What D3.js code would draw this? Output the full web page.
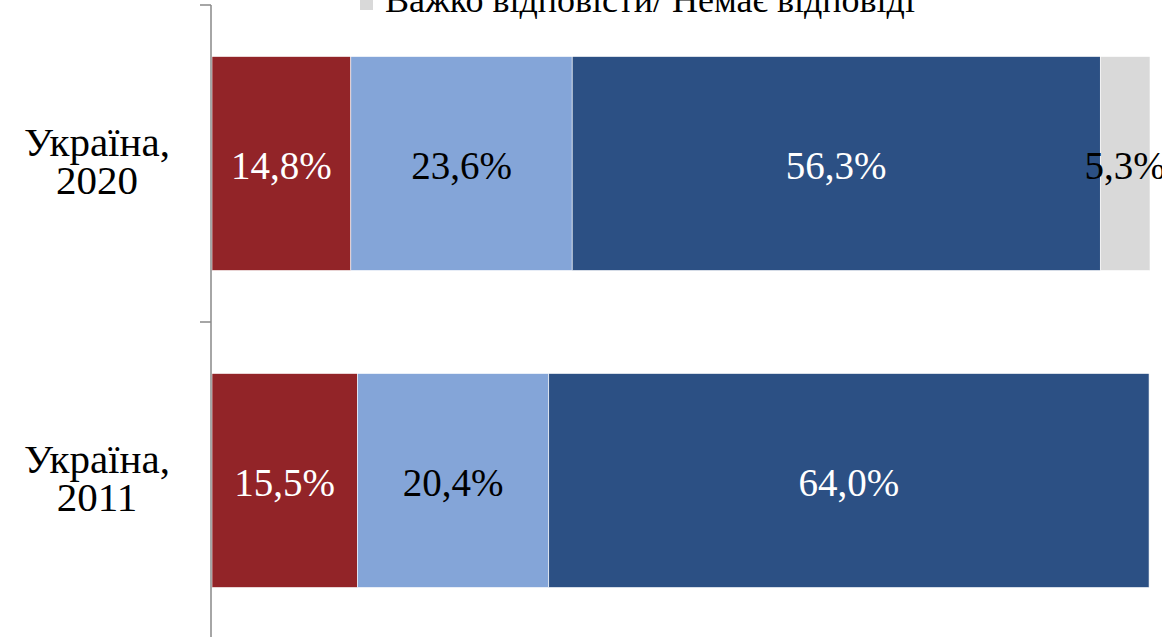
<!DOCTYPE html>
<meta charset="utf-8">
<script src="https://d3js.org/d3.v7.min.js"></script>
<style>
  body { margin: 0; background: #fff; }
  svg { display: block; }
</style>
<div id="my_dataviz"></div>
<script>
  // categories (top to bottom) and their two-line labels
  var categories = ["2020", "2011"];
  var catLabels = [["Україна,", "2020"], ["Україна,", "2011"]];

  // series, in stacking order
  var seriesNames = ["s1", "s2", "s3", "Важко відповісти/ Немає відповіді"];
  var seriesColors = ["#922428", "#84a5d8", "#2c5084", "#d9d9d9"];
  var labelColors = ["#fff", "#000", "#fff", "#000"];

  // values per category, in %
  var values2020 = [14.8, 23.6, 56.3, 5.3];
  var values2011 = [15.5, 20.4, 64.0, 0];

  var width = 1162, height = 637;
  var font = "'Liberation Serif', 'Times New Roman', serif";

  var svg = d3.select("#my_dataviz")
    .append("svg")
    .attr("width", width)
    .attr("height", height);

  // build rows for the stack
  var rows = [values2020, values2011].map(function(v, i) {
    var r = { cat: categories[i] };
    seriesNames.forEach(function(s, j) { r[s] = v[j]; });
    return r;
  });

  var stacked = d3.stack().keys(seriesNames)(rows);

  var x = d3.scaleLinear()
    .domain([0, 100])
    .range([212, 1150]);

  var y = d3.scaleBand()
    .domain(categories)
    .range([5, 639])
    .paddingInner(0.325)
    .paddingOuter(0.1625);

  // bars
  var layer = svg.append("g")
    .selectAll("g")
    .data(stacked)
    .enter().append("g")
    .attr("fill", function(d, i) { return seriesColors[i]; });

  layer.selectAll("rect")
    .data(function(d) { return d; })
    .enter().append("rect")
    .attr("x", function(d) { return x(d[0]); })
    .attr("y", function(d) { return y(d.data.cat); })
    .attr("width", function(d) { return x(d[1]) - x(d[0]); })
    .attr("height", y.bandwidth())
    .attr("stroke", "#fff")
    .attr("stroke-width", 0.6)
    .style("display", function(d) { return d[1] - d[0] > 0 ? null : "none"; });

  // value labels
  layer.each(function(s, i) {
    d3.select(this).selectAll("text")
      .data(s.filter(function(d) { return d[1] - d[0] > 0; }))
      .enter().append("text")
      .attr("x", function(d) { return (x(d[0]) + x(d[1])) / 2; })
      .attr("y", function(d) { return y(d.data.cat) + y.bandwidth() / 2 + 15; })
      .attr("text-anchor", "middle")
      .attr("fill", labelColors[i])
      .style("font-family", font)
      .style("font-size", "39px")
      .text(function(d) { return (d[1] - d[0]).toFixed(1).replace(".", ",") + "%"; });
  });

  // category axis: line plus ticks at band boundaries
  var axisX = 211;
  var bounds = categories.map(function(c) {
    return y(c) - (y.step() - y.bandwidth()) / 2;
  });
  bounds.push(bounds[bounds.length - 1] + y.step());

  var axis = svg.append("g").attr("stroke", "#898989").attr("stroke-width", 1.5);
  axis.append("line")
    .attr("x1", axisX).attr("x2", axisX)
    .attr("y1", bounds[0]).attr("y2", bounds[bounds.length - 1]);
  axis.selectAll(".tick")
    .data(bounds)
    .enter().append("line")
    .attr("x1", axisX - 11).attr("x2", axisX)
    .attr("y1", function(d) { return d; })
    .attr("y2", function(d) { return d; });

  // category labels
  svg.append("g")
    .selectAll("text")
    .data(categories)
    .enter().append("text")
    .attr("text-anchor", "middle")
    .style("font-family", font)
    .style("font-size", "41px")
    .attr("fill", "#000")
    .each(function(c, i) {
      var t = d3.select(this);
      var cy = y(c) + y.bandwidth() / 2;
      catLabels[i].forEach(function(line, k) {
        t.append("tspan")
          .attr("x", 97)
          .attr("y", cy - 8 + k * 38)
          .text(line);
      });
    });

  // legend (only the last entry is in view)
  var legend = svg.append("g");
  legend.append("rect")
    .attr("x", 360).attr("y", -3)
    .attr("width", 13).attr("height", 13)
    .attr("fill", seriesColors[3]);
  legend.append("text")
    .attr("x", 385).attr("y", 12)
    .style("font-family", font)
    .style("font-size", "36px")
    .attr("fill", "#000")
    .text(seriesNames[3]);
</script>
